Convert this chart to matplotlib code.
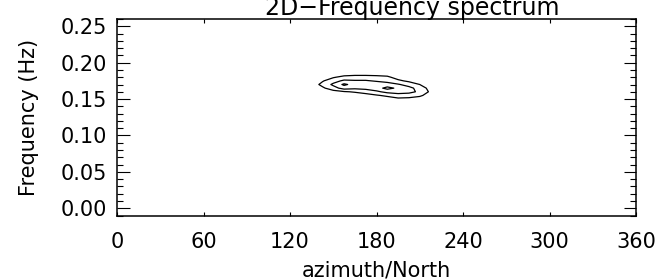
import numpy as np
import matplotlib
matplotlib.use("Agg")
import matplotlib.pyplot as plt
from matplotlib.ticker import MultipleLocator

# ---- data ----
title = "2D\u2212Frequency spectrum"
xlabel = "azimuth/North"
ylabel = "Frequency (Hz)"
xticks = [0, 60, 120, 180, 240, 300, 360]
yticks = [0.00, 0.05, 0.10, 0.15, 0.20, 0.25]
ytick_labels = ["0.00", "0.05", "0.10", "0.15", "0.20", "0.25"]

azimuth = [135, 142.5, 150, 157.5, 165, 172.5, 180, 187.5, 195, 202.5, 210, 217.5, 225]
frequency = [0.190, 0.185, 0.180, 0.175, 0.170, 0.165, 0.160, 0.155, 0.150, 0.145]
# energy[row = frequency][col = azimuth]
energy_by_azimuth = [
    [0.0, 0.0, 0.0, 0.0, 0.4, 0.2, 0.0, 0.0, 0.0, 0.0],
    [0.0, 0.0, 0.3, 0.9, 1.3, 0.8, 0.2, 0.0, 0.0, 0.0],
    [0.0, 0.3, 0.9, 1.6, 2.2, 1.6, 0.6, 0.0, 0.0, 0.0],
    [0.0, 0.5, 1.3, 2.2, 3.2, 2.4, 0.9, 0.2, 0.0, 0.0],
    [0.0, 0.6, 1.4, 2.1, 2.6, 2.2, 1.1, 0.4, 0.0, 0.0],
    [0.0, 0.6, 1.4, 2.1, 2.5, 2.3, 1.4, 0.6, 0.1, 0.0],
    [0.0, 0.6, 1.3, 1.9, 2.6, 2.6, 1.8, 0.9, 0.3, 0.0],
    [0.0, 0.5, 1.2, 1.7, 2.4, 3.3, 2.3, 1.2, 0.5, 0.0],
    [0.0, 0.1, 0.6, 1.2, 2.1, 2.8, 2.5, 1.5, 0.8, 0.1],
    [0.0, 0.0, 0.3, 0.8, 1.6, 2.3, 2.3, 1.5, 0.7, 0.1],
    [0.0, 0.0, 0.0, 0.4, 1.0, 1.6, 1.8, 1.2, 0.5, 0.0],
    [0.0, 0.0, 0.0, 0.0, 0.3, 0.6, 0.8, 0.5, 0.2, 0.0],
    [0.0, 0.0, 0.0, 0.0, 0.0, 0.1, 0.2, 0.1, 0.0, 0.0],
]
levels = [1.0, 2.0, 3.0]

# ---- figure ----
W, H = 655, 279
fig = plt.figure(figsize=(W / 100, H / 100), dpi=100)
L, R, T, B = 117, 636, 19, 215.5
ax = fig.add_axes([L / W, 1 - B / H, (R - L) / W, (B - T) / H])

Z = np.array(energy_by_azimuth).T
ax.contour(azimuth, frequency, Z, levels=levels,
           colors="black", linewidths=0.9)

ax.set_xlim(0, 360)
ax.set_ylim(-0.01, 0.26)
ax.set_xticks(xticks)
ax.set_xticklabels([str(v) for v in xticks])
ax.set_yticks(yticks)
ax.set_yticklabels(ytick_labels)
ax.yaxis.set_minor_locator(MultipleLocator(0.01))

ax.tick_params(axis="x", which="major", direction="in", length=3, width=0.8,
               top=True, bottom=True, labelsize=15, pad=12)
ax.tick_params(axis="y", which="major", direction="in", length=9, width=0.8,
               left=True, right=True, labelsize=15, pad=7)
ax.tick_params(axis="y", which="minor", direction="in", length=4.5, width=0.8,
               left=True, right=True)
for s in ax.spines.values():
    s.set_linewidth(1.1)

ax.set_xlabel(xlabel, fontsize=15, labelpad=6)
ax.set_ylabel(ylabel, fontsize=15, labelpad=16)

fig.text(412 / W, 1 - 15 / H, title, fontsize=17, ha="center", va="baseline")

fig.savefig("out.png", dpi=100)
